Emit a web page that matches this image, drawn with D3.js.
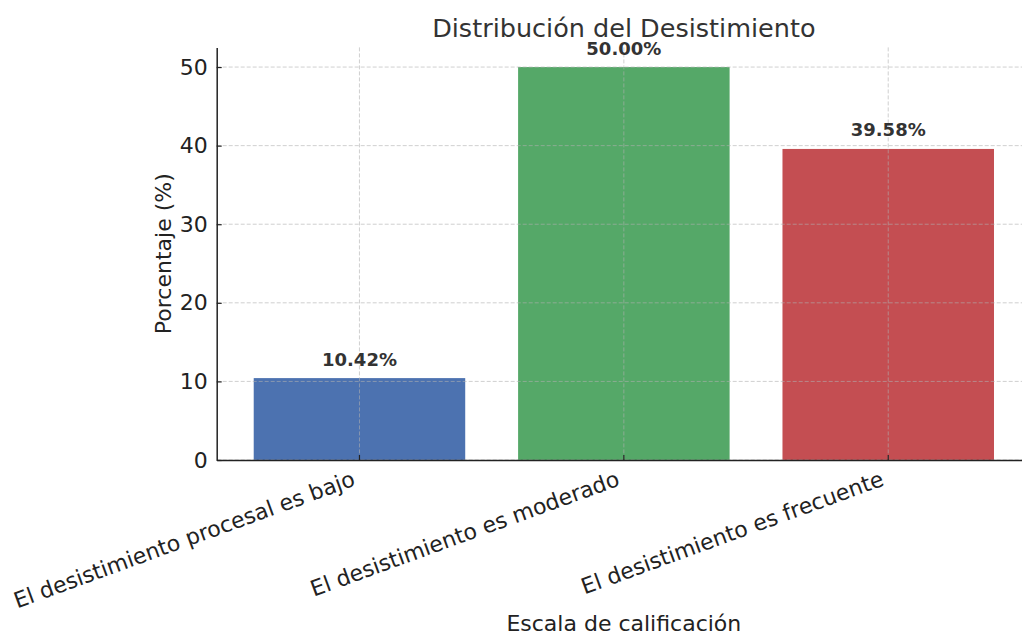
<!DOCTYPE html>
<html>
<head>
<meta charset="utf-8">
<script src="https://cdn.jsdelivr.net/npm/d3@7"></script>
<style>
  html, body { margin: 0; padding: 0; background: #fff; }
  svg { display: block; font-family: "DejaVu Sans", sans-serif; }
</style>
</head>
<body>
<svg id="chart" width="1022" height="636"></svg>
<script>
const categories = [
  "El desistimiento procesal es bajo",
  "El desistimiento es moderado",
  "El desistimiento es frecuente"
];
const values = [10.42, 50.00, 39.58];
const colors = ["#4C72B0", "#55A868", "#C44E52"];
const yTicks = [0, 10, 20, 30, 40, 50];
const title = "Distribución del Desistimiento";
const xLabel = "Escala de calificación";
const yLabel = "Porcentaje (%)";

const mLeft = 216.7, mRight = 1031, mTop = 47.4, mBottom = 460;

const svg = d3.select("#chart");

const x = d3.scaleBand()
  .domain(categories)
  .range([mLeft, mRight])
  .paddingInner(0.2)
  .paddingOuter(0.14)
  .align(0.5);

const y = d3.scaleLinear()
  .domain([0, 52.5])
  .range([mBottom, mTop]);

// bars
svg.append("g").selectAll("rect")
  .data(categories)
  .enter().append("rect")
  .attr("x", d => x(d))
  .attr("width", x.bandwidth())
  .attr("y", (d, i) => y(values[i]))
  .attr("height", (d, i) => y(0) - y(values[i]))
  .attr("fill", (d, i) => colors[i]);

// grid
const grid = svg.append("g")
  .attr("stroke", "#b0b0b0")
  .attr("stroke-opacity", 0.6)
  .attr("stroke-width", 1)
  .attr("stroke-dasharray", "4,2")
  .attr("fill", "none");

grid.selectAll("line.h")
  .data(yTicks)
  .enter().append("line")
  .attr("x1", mLeft).attr("x2", mRight)
  .attr("y1", d => y(d)).attr("y2", d => y(d));

grid.selectAll("line.v")
  .data(categories)
  .enter().append("line")
  .attr("x1", d => x(d) + x.bandwidth() / 2)
  .attr("x2", d => x(d) + x.bandwidth() / 2)
  .attr("y1", mTop).attr("y2", mBottom);

// y axis
const yAxis = svg.append("g")
  .attr("transform", `translate(${mLeft},0)`)
  .call(d3.axisLeft(y).tickValues(yTicks).tickSizeInner(-5).tickSizeOuter(0).tickPadding(9));
yAxis.select(".domain").attr("stroke", "#222").attr("stroke-width", 1.5);
yAxis.selectAll(".tick line").attr("stroke", "#222").attr("stroke-width", 1.2);
yAxis.selectAll(".tick text")
  .attr("font-family", "DejaVu Sans")
  .attr("font-size", 22)
  .attr("fill", "#222");

// x axis
const xAxis = svg.append("g")
  .attr("transform", `translate(0,${mBottom})`)
  .call(d3.axisBottom(x).tickSizeInner(-5).tickSizeOuter(0).tickPadding(0));
xAxis.select(".domain").attr("stroke", "#222").attr("stroke-width", 1.5);
xAxis.selectAll(".tick line").attr("stroke", "#222").attr("stroke-width", 1.2);
xAxis.selectAll(".tick text")
  .attr("font-family", "DejaVu Sans")
  .attr("font-size", 22)
  .attr("fill", "#222")
  .attr("text-anchor", "end")
  .attr("dy", null)
  .attr("y", 0)
  .attr("transform", "translate(-3,25) rotate(-20)");

// bar value labels
svg.append("g").selectAll("text")
  .data(categories)
  .enter().append("text")
  .attr("x", d => x(d) + x.bandwidth() / 2)
  .attr("y", (d, i) => y(values[i]) - 12.5)
  .attr("text-anchor", "middle")
  .attr("font-family", "DejaVu Sans")
  .attr("font-weight", "bold")
  .attr("font-size", 18)
  .attr("fill", "#333")
  .text((d, i) => values[i].toFixed(2) + "%");

// title
svg.append("text")
  .attr("x", (mLeft + mRight) / 2)
  .attr("y", 37)
  .attr("text-anchor", "middle")
  .attr("font-size", 25.5)
  .attr("fill", "#333")
  .text(title);

// x label
svg.append("text")
  .attr("x", (mLeft + mRight) / 2)
  .attr("y", 631)
  .attr("text-anchor", "middle")
  .attr("font-size", 22)
  .attr("fill", "#222")
  .text(xLabel);

// y label
svg.append("text")
  .attr("transform", `translate(171,${(mTop + mBottom) / 2}) rotate(-90)`)
  .attr("text-anchor", "middle")
  .attr("font-size", 22)
  .attr("fill", "#222")
  .text(yLabel);
</script>
</body>
</html>
